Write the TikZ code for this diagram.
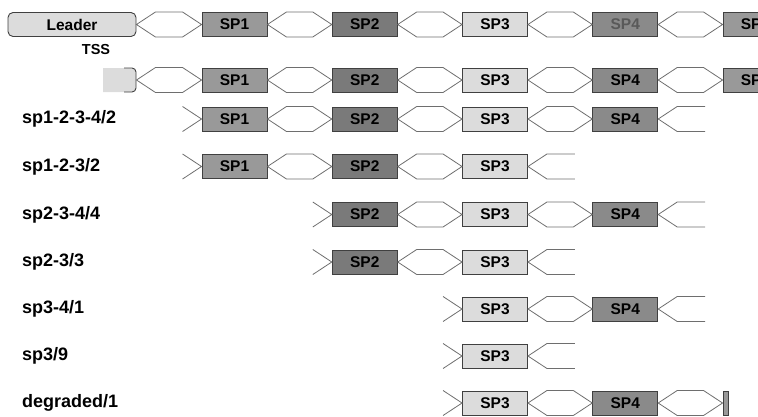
\documentclass[tikz,border=0pt]{standalone}
\usepackage{fontspec}
\setmainfont{Liberation Sans}
\usetikzlibrary{%
  calc,%
  positioning%
}

\definecolor{leadgray}{HTML}{DCDCDC}
\definecolor{spone}{HTML}{999999}
\definecolor{sptwo}{HTML}{7A7A7A}
\definecolor{spthree}{HTML}{DCDCDC}
\definecolor{spfour}{HTML}{8A8A8A}
\definecolor{edge}{HTML}{404040}
\definecolor{linkgray}{HTML}{6E6E6E}

% hexagon between two boxes
\newcommand{\hexlink}[2]{%
  \draw[link] (#1.east) -- ($(#1.east)+(19,-12.5)$) -- ($(#2.west)+(-19,-12.5)$) -- (#2.west)
    -- ($(#2.west)+(-19,12.5)$) -- ($(#1.east)+(19,12.5)$) -- cycle;}
% open start in front of a box
\newcommand{\stubin}[1]{%
  \draw[link] ($(#1.west)+(-19,-12.5)$) -- (#1.west) -- ($(#1.west)+(-19,12.5)$);}
% open end behind a box
\newcommand{\stubout}[1]{%
  \draw[link] ($(#1.east)+(47,-12.5)$) -- ($(#1.east)+(19,-12.5)$) -- (#1.east)
    -- ($(#1.east)+(19,12.5)$) -- ($(#1.east)+(47,12.5)$);}

\begin{document}
\begin{tikzpicture}[
  x=1pt, y=-1pt,
  font=\bfseries,
  box/.style={rectangle, minimum width=65pt, minimum height=24pt, inner sep=0pt, draw=edge, line width=0.9pt, font=\fontsize{15.5}{18}\selectfont\bfseries},
  sp1/.style={fill=spone},
  sp2/.style={fill=sptwo},
  sp3/.style={fill=spthree},
  sp4/.style={fill=spfour},
  sp5/.style={fill=spone},
  link/.style={draw=linkgray, line width=0.8pt, line join=miter},
  rowlabel/.style={anchor=west, inner sep=0pt, font=\fontsize{18}{21}\selectfont\bfseries}
]
\clip (0,0) rectangle (758,416);

% top line: leader
\node[box, rounded corners=5pt, fill=leadgray, minimum width=128pt] (leader) at (72,24.5) {Leader};
\foreach \i in {1,2,3,5} {
  \node[box, sp\i] (a\i) at ({234.5+130.25*(\i-1)},24.5) {SP\i};
}
\node[box, sp4, text=black!65] (a4) at (625.25,24.5) {SP4};
\hexlink{leader}{a1}
\hexlink{a1}{a2}
\hexlink{a2}{a3}
\hexlink{a3}{a4}
\hexlink{a4}{a5}

% second line: TSS
\node[font=\fontsize{14.5}{17}\selectfont\bfseries] (tss) at (96,50) {TSS};
\fill[leadgray] (103,68) [rounded corners=4pt] -- (136,68) -- (136,92) [sharp corners] -- (103,92) -- cycle;
\draw[edge, line width=0.9pt, rounded corners=4pt] (124,68) -- (136,68) -- (136,92) -- (124,92);
\coordinate (tssend) at (136.5,80);
\foreach \i in {1,...,5} {
  \node[box, sp\i] (b\i) at ({234.5+130.25*(\i-1)},80) {SP\i};
}
\draw[link] (tssend) -- ($(tssend)+(19,-12.5)$) -- ($(b1.west)+(-19,-12.5)$) -- (b1.west)
  -- ($(b1.west)+(-19,12.5)$) -- ($(tssend)+(19,12.5)$) -- cycle;
\hexlink{b1}{b2}
\hexlink{b2}{b3}
\hexlink{b3}{b4}
\hexlink{b4}{b5}

% subgenomic rows
\node[rowlabel] (l3) at (22,119) {sp1-2-3-4/2};
\node[rowlabel] (l4) at (22,166.5) {sp1-2-3/2};
\node[rowlabel] (l5) at (22,214.5) {sp2-3-4/4};
\node[rowlabel] (l6) at (22,262) {sp2-3/3};
\node[rowlabel] (l7) at (22,309) {sp3-4/1};
\node[rowlabel] (l8) at (22,356) {sp3/9};
\node[rowlabel] (l9) at (22,403) {degraded/1};

\foreach \r/\y/\first/\last in {3/119/1/4, 4/166.5/1/3, 5/214.5/2/4, 6/262/2/3, 7/309/3/4, 8/356/3/3, 9/403/3/4} {
  \foreach \i in {\first,...,\last} {
    \node[box, sp\i] (r\r-\i) at ({234.5+130.25*(\i-1)},\y) {SP\i};
  }
}
\node[box, sp1, minimum width=5pt] (tail) at (725.5,403) {};

\stubin{r3-1}
\hexlink{r3-1}{r3-2}
\hexlink{r3-2}{r3-3}
\hexlink{r3-3}{r3-4}
\stubout{r3-4}

\stubin{r4-1}
\hexlink{r4-1}{r4-2}
\hexlink{r4-2}{r4-3}
\stubout{r4-3}

\stubin{r5-2}
\hexlink{r5-2}{r5-3}
\hexlink{r5-3}{r5-4}
\stubout{r5-4}

\stubin{r6-2}
\hexlink{r6-2}{r6-3}
\stubout{r6-3}

\stubin{r7-3}
\hexlink{r7-3}{r7-4}
\stubout{r7-4}

\stubin{r8-3}
\stubout{r8-3}

\stubin{r9-3}
\hexlink{r9-3}{r9-4}
\hexlink{r9-4}{tail}

\end{tikzpicture}
\end{document}
